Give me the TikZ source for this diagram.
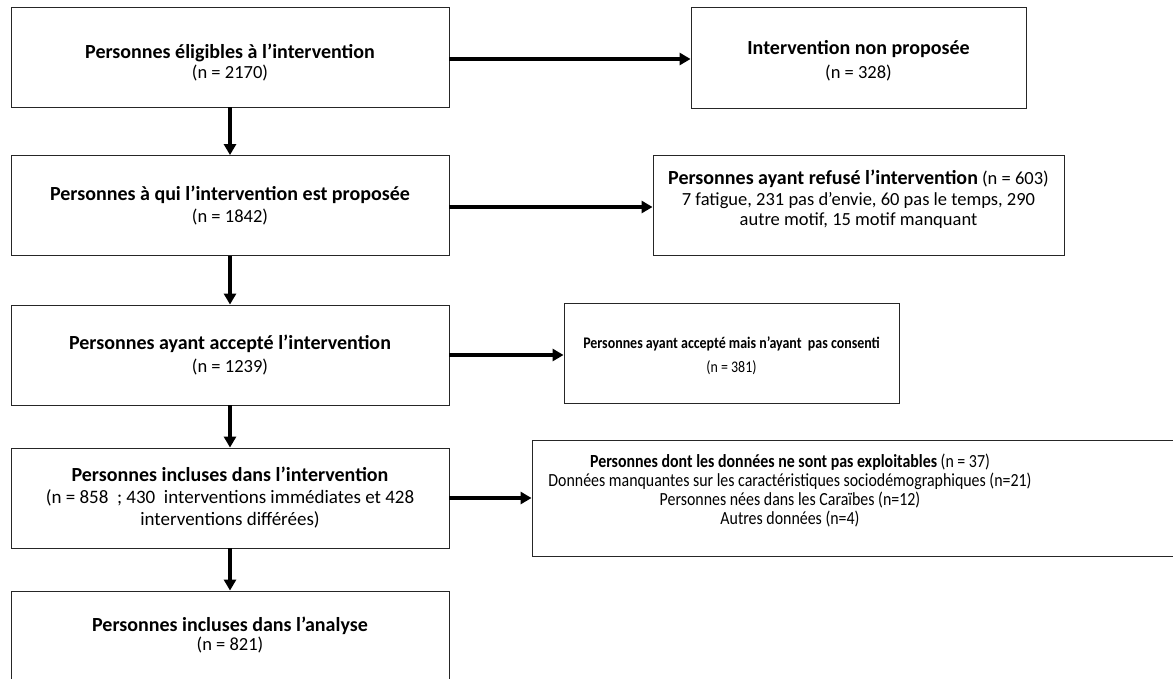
\documentclass[tikz,border=0pt]{standalone}
\usepackage{fontspec}
\setmainfont{Carlito}
\newfontfamily\condfont[FakeStretch=0.86]{Carlito}
\usetikzlibrary{arrows.meta}
\newcommand{\ttl}[1]{{\fontsize{20}{20}\selectfont\bfseries #1}}
\newcommand{\upstrut}[1]{\rule{0pt}{#1}}
\newcommand{\downstrut}[1]{\rule[-#1]{0pt}{#1}}
\tikzset{
  box/.style={draw=black!85, line width=0.9pt, rectangle, align=center},
  lsp/.style={font=\fontsize{18.5}{#1}\selectfont},
  leftbox/.style={box, minimum width=438pt, minimum height=100pt},
  flow/.style={line width=3.6pt, -{Triangle[length=11pt,width=12pt]}}
}
\begin{document}
\begin{tikzpicture}[x=1pt,y=-1pt]
\useasboundingbox (0,0) rectangle (1173,678);
\node[leftbox, lsp=19.5] (b1) at (230,57) {\upstrut{26pt}\ttl{Personnes éligibles à l’intervention}\\(n = 2170)};
\node[leftbox, lsp=22] (b2) at (230,205.5) {\ttl{Personnes à qui l’intervention est proposée}\\(n = 1842)};
\node[leftbox, lsp=23] (b3) at (230,355) {\ttl{Personnes ayant accepté l’intervention}\\(n = 1239)};
\node[leftbox, font=\fontsize{19}{22}\selectfont] (b4) at (230,498) {\ttl{Personnes incluses dans l’intervention}\\(n = 858 \ ; 430 \ interventions immédiates et 428\\interventions différées)};
\node[leftbox, lsp=19, minimum height=88pt] (b5) at (230,635) {\ttl{Personnes incluses dans l’analyse}\\(n = 821)};
\node[box, minimum width=335pt, minimum height=101pt, lsp=24] (r1) at (858.5,57.5) {\upstrut{20pt}\ttl{Intervention non proposée}\\(n = 328)};
\node[box, minimum width=411pt, minimum height=100pt, lsp=20.5] (r2) at (858.5,205) {\ttl{Personnes ayant refusé l’intervention} (n = 603)\\7 fatigue, 231 pas d’envie, 60 pas le temps, 290\\autre motif, 15 motif manquant\downstrut{14pt}};
\node[box, minimum width=335pt, minimum height=100pt, font=\condfont\fontsize{16.2}{24}\selectfont] (r3) at (731.5,353) {\upstrut{18pt}\textbf{Personnes ayant accepté mais n’ayant \ pas consenti}\\(n = 381)};
\node[box, minimum width=650pt, minimum height=116pt] (r4) at (857,498) {};
\node[align=center, font=\condfont\fontsize{18.5}{19}\selectfont] (r4t) at (790,491) {\textbf{Personnes dont les données ne sont pas exploitables} (n = 37)\\Données manquantes sur les caractéristiques sociodémographiques (n=21)\\Personnes nées dans les Caraïbes (n=12)\\Autres données (n=4)};
\draw[flow] (b1) -- (b2);
\draw[flow] (b2) -- (b3);
\draw[flow] (b3) -- (b4);
\draw[flow] (b4) -- (b5);
\draw[flow] ([yshift=-2pt]b1.east) -- ([yshift=-2pt]b1.east -| r1.west);
\draw[flow] ([yshift=-1.5pt]b2.east) -- ([yshift=-1.5pt]b2.east -| r2.west);
\draw[flow] (b3.east) -- (b3.east -| r3.west);
\draw[flow] (b4.east) -- (b4.east -| r4.west);
\end{tikzpicture}
\end{document}
